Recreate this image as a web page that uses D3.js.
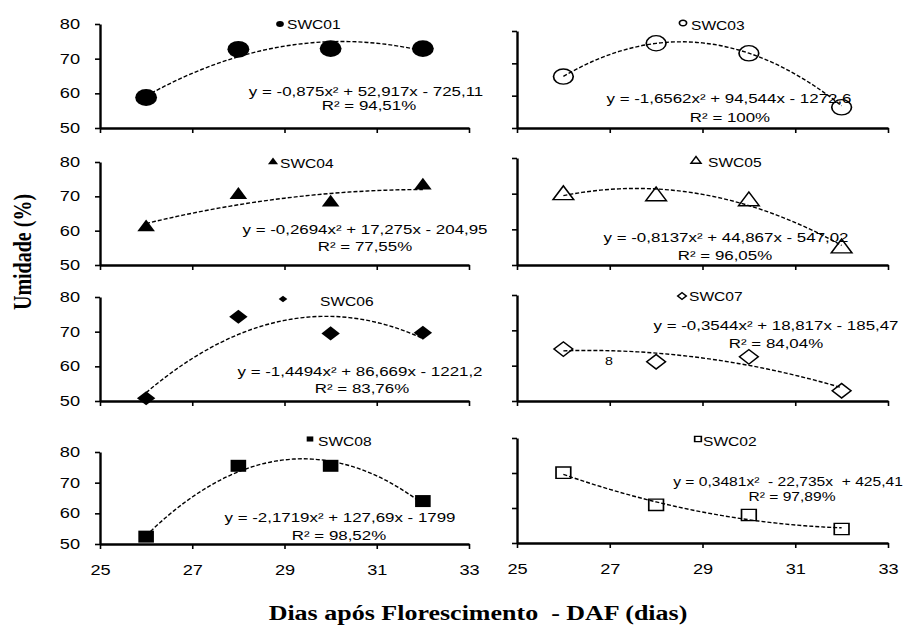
<!DOCTYPE html>
<html>
<head>
<meta charset="utf-8">
<script src="https://cdn.jsdelivr.net/npm/d3@7"></script>
<style>
    body { margin: 0; background: #fff; }
    text { font-family: "Liberation Sans", Arial, sans-serif; fill: #000; }
    .axis-title { font-family: "Liberation Serif", "Times New Roman", serif; font-weight: bold; }
</style>
</head>
<body>
<div class="chart-container"></div>
<script>
// dias apos florescimento (DAF)
const days = [26, 28, 30, 32];
const xTicks = [25, 27, 29, 31, 33];
const yTicks = [50, 60, 70, 80];

const seriesNames = ["SWC01", "SWC03", "SWC04", "SWC05", "SWC06", "SWC07", "SWC08", "SWC02"];

// umidade (%)
const swc01 = [58.8, 72.7, 72.9, 72.9];
const swc03 = [65.9, 76.2, 73.1, 56.4];
const swc04 = [61.0, 70.4, 68.2, 73.1];
const swc05 = [69.6, 69.3, 67.9, 54.7];
const swc06 = [50.8, 74.3, 69.5, 69.7];
const swc07 = [64.7, 61.1, 62.5, 52.9];
const swc08 = [52.4, 75.5, 75.5, 64.0];
const swc02 = [70.1, 60.9, 58.0, 54.0];

// trendline coefficients [a, b, c] for y = a x^2 + b x + c
const coef01 = [-0.875, 52.917, -725.11];
const coef03 = [-1.6562, 94.544, -1272.6];
const coef04 = [-0.2694, 17.275, -204.95];
const coef05 = [-0.8137, 44.867, -547.02];
const coef06 = [-1.4494, 86.669, -1221.2];
const coef07 = [-0.3544, 18.817, -185.47];
const coef08 = [-2.1719, 127.69, -1799];
const coef02 = [0.3481, -22.735, 425.41];

const eqLabels = [
    "y = -0,875x² + 52,917x - 725,11",
    "y = -1,6562x² + 94,544x - 1272,6",
    "y = -0,2694x² + 17,275x - 204,95",
    "y = -0,8137x² + 44,867x - 547,02",
    "y = -1,4494x² + 86,669x - 1221,2",
    "y = -0,3544x² + 18,817x - 185,47",
    "y = -2,1719x² + 127,69x - 1799",
    "y = 0,3481x²  - 22,735x  + 425,41"
];
const r2Labels = ["R² = 94,51%", "R² = 100%", "R² = 77,55%", "R² = 96,05%",
    "R² = 83,76%", "R² = 84,04%", "R² = 98,52%", "R² = 97,89%"];

const seriesValues = [swc01, swc03, swc04, swc05, swc06, swc07, swc08, swc02];
const seriesCoefs = [coef01, coef03, coef04, coef05, coef06, coef07, coef08, coef02];

// the whole figure is stretched horizontally
const SX = 1.3;

// layout in page pixels: axis box, legend spot, equation spots
const panels = [
    { x0: 100, x1: 469, yTop: 24, yBot: 128, leg: [280, 24, 287, 25], eq: [366, 91], r2: [369, 105], fs: 13 },
    { x0: 517, x1: 888, yTop: 31, yBot: 128, leg: [683, 23, 691, 26], eq: [729, 98], r2: [730, 117], fs: 13 },
    { x0: 100, x1: 469, yTop: 162, yBot: 265, leg: [273, 162, 280, 164], eq: [365, 229], r2: [365, 246], fs: 13 },
    { x0: 517, x1: 888, yTop: 158, yBot: 265, leg: [696, 161, 708, 163], eq: [726, 237], r2: [725, 255], fs: 13 },
    { x0: 100, x1: 469, yTop: 297, yBot: 401, leg: [283, 299, 320, 302], eq: [360, 371], r2: [362, 388], fs: 13 },
    { x0: 517, x1: 888, yTop: 295, yBot: 401, leg: [682, 296, 689, 297], eq: [776, 325], r2: [776, 343], fs: 13 },
    { x0: 100, x1: 469, yTop: 452, yBot: 544, leg: [310, 439, 318, 442], eq: [340, 517], r2: [339, 535], fs: 13 },
    { x0: 517, x1: 888, yTop: 438, yBot: 543, leg: [698, 439, 703, 442], eq: [788, 482], r2: [792, 497], fs: 12 }
];

const markerShape = ["circle", "circle", "triangle", "triangle", "diamond", "diamond", "square", "square"];
const markerFilled = [true, false, true, false, true, false, true, false];
const markerArea = [222, 181, 80, 110, 100, 105, 144, 128];
const legendArea = [28, 24, 26, 26, 22, 22, 26, 26];

const symbolTypes = {
    circle: d3.symbolCircle,
    triangle: d3.symbolTriangle,
    diamond: d3.symbolSquare,
    square: d3.symbolSquare
};

const svg = d3.select(".chart-container")
    .append("svg")
    .attr("width", 904)
    .attr("height", 628);

const stretch = (x, y) => `translate(${x},${y}) scale(${SX},1)`;

const drawMarker = (g, shape, filled, area, x, y) => {
    const rot = shape === "diamond" ? " rotate(45)" : "";
    g.append("path")
        .attr("d", d3.symbol().type(symbolTypes[shape]).size(area)())
        .attr("transform", stretch(x, y) + rot)
        .attr("fill", filled ? "#000" : "#fff")
        .attr("stroke", "#000")
        .attr("stroke-width", filled ? 0 : 1.3);
};

panels.forEach((p, i) => {
    const isLeft = i % 2 === 0;
    const isBottom = i >= 6;
    const g = svg.append("g");

    const xScale = d3.scaleLinear().domain([25, 33]).range([p.x0, p.x1]);
    const yScale = d3.scaleLinear().domain([50, 80]).range([p.yBot, p.yTop]);

    const xAxis = d3.axisBottom(xScale)
        .tickValues(xTicks)
        .tickSize(5)
        .tickSizeOuter(0)
        .tickFormat(isBottom ? d3.format("d") : "");

    const yAxis = d3.axisLeft(yScale)
        .tickValues(yTicks)
        .tickSize(5)
        .tickSizeOuter(0)
        .tickFormat(isLeft ? d3.format("d") : "");

    const gx = g.append("g")
        .attr("transform", `translate(0,${p.yBot})`)
        .call(xAxis);
    gx.selectAll("text")
        .attr("y", 21)
        .attr("font-size", 14)
        .attr("transform", `scale(${SX},1)`);

    const gy = g.append("g")
        .attr("transform", `translate(${p.x0},0)`)
        .call(yAxis);
    gy.selectAll("text")
        .attr("x", -20 / SX)
        .attr("font-size", 14)
        .attr("transform", `scale(${SX},1)`);

    [gx, gy].forEach(a => {
        a.select(".domain").attr("stroke", "#000").attr("stroke-width", 2.4);
        a.selectAll(".tick line").attr("stroke", "#000").attr("stroke-width", 1.6);
        a.selectAll("text").attr("font-family", "Liberation Sans, Arial, sans-serif").attr("fill", "#000");
    });

    // data points
    seriesValues[i].forEach((v, j) => {
        drawMarker(g, markerShape[i], markerFilled[i], markerArea[i], xScale(days[j]), yScale(v));
    });

    // polynomial trendline from the printed equation
    const [a, b, c] = seriesCoefs[i];
    const line = d3.line()
        .x(d => xScale(d))
        .y(d => yScale(a * d * d + b * d + c))
        .curve(d3.curveMonotoneX);

    g.append("path")
        .datum(d3.range(days[0], days[days.length - 1] + 0.001, 0.2))
        .attr("d", line)
        .attr("fill", "none")
        .attr("stroke", "#000")
        .attr("stroke-width", 1.4)
        .attr("stroke-dasharray", "4,2");

    // legend
    const [lmx, lmy, ltx, lty] = p.leg;
    drawMarker(g, markerShape[i], markerFilled[i], legendArea[i], lmx, lmy);
    g.append("text")
        .attr("transform", stretch(ltx, lty))
        .attr("dy", "0.35em")
        .attr("font-size", 12)
        .text(seriesNames[i]);

    // equation and R2
    g.append("text")
        .attr("transform", stretch(p.eq[0], p.eq[1]))
        .attr("dy", "0.35em")
        .attr("text-anchor", "middle")
        .attr("font-size", p.fs)
        .style("white-space", "pre")
        .text(eqLabels[i]);

    g.append("text")
        .attr("transform", stretch(p.r2[0], p.r2[1]))
        .attr("dy", "0.35em")
        .attr("text-anchor", "middle")
        .attr("font-size", p.fs)
        .text(r2Labels[i]);
});

// stray glyph left over in the SWC07 panel
svg.append("text")
    .attr("transform", stretch(609, 361))
    .attr("dy", "0.35em")
    .attr("text-anchor", "middle")
    .attr("font-size", 11)
    .text("8");

svg.append("text")
    .attr("class", "axis-title")
    .attr("transform", `translate(22,252) scale(${SX},1) rotate(-90)`)
    .attr("dy", "0.35em")
    .attr("text-anchor", "middle")
    .attr("font-size", 20)
    .text("Umidade (%)");

svg.append("text")
    .attr("class", "axis-title")
    .attr("transform", stretch(478, 613))
    .attr("dy", "0.35em")
    .attr("text-anchor", "middle")
    .attr("font-size", 20)
    .style("white-space", "pre")
    .text("Dias após Florescimento  - DAF (dias)");
</script>
</body>
</html>
